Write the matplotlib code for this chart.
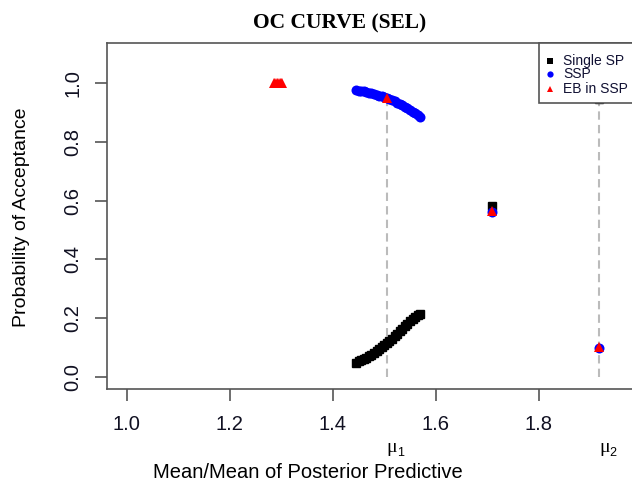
import matplotlib
matplotlib.use("Agg")
import matplotlib.pyplot as plt
from matplotlib.lines import Line2D
from matplotlib.patches import Rectangle

# ---- data ----
single_x = [1.445, 1.450, 1.455, 1.460, 1.465, 1.470, 1.475, 1.480, 1.485, 1.490,
            1.495, 1.500, 1.505, 1.510, 1.515, 1.520, 1.525, 1.530, 1.535, 1.540,
            1.545, 1.550, 1.555, 1.560, 1.565, 1.570, 1.710, 1.917]
single_y = [0.048, 0.052, 0.056, 0.060, 0.065, 0.070, 0.075, 0.081, 0.087, 0.093,
            0.100, 0.107, 0.114, 0.121, 0.129, 0.137, 0.145, 0.154, 0.163, 0.172,
            0.181, 0.190, 0.198, 0.205, 0.211, 0.215, 0.580, 0.946]

ssp_x = [1.445, 1.450, 1.455, 1.460, 1.465, 1.470, 1.475, 1.480, 1.485, 1.490,
         1.495, 1.500, 1.505, 1.510, 1.515, 1.520, 1.525, 1.530, 1.535, 1.540,
         1.545, 1.550, 1.555, 1.560, 1.565, 1.570, 1.710, 1.917]
ssp_y = [0.976, 0.975, 0.973, 0.972, 0.970, 0.968, 0.966, 0.964, 0.961, 0.958,
         0.955, 0.952, 0.949, 0.946, 0.942, 0.938, 0.934, 0.929, 0.925, 0.920,
         0.914, 0.909, 0.903, 0.897, 0.891, 0.886, 0.561, 0.097]

eb_x = [1.285, 1.288, 1.291, 1.294, 1.297, 1.300, 1.302, 1.505, 1.710, 1.917]
eb_y = [1.000, 1.000, 1.000, 1.000, 1.000, 1.000, 1.000, 0.950, 0.566, 0.102]

mu_x = [1.505, 1.917]
mu_top = [0.950, 0.946]
mu_subs = ["1", "2"]

legend_labels = ["Single SP", "SSP", "EB in SSP"]
x_ticks = [1.0, 1.2, 1.4, 1.6, 1.8]
y_ticks = [0.0, 0.2, 0.4, 0.6, 0.8, 1.0]

# ---- figure ----
W, H = 632, 483
fig = plt.figure(figsize=(W / 100, H / 100), dpi=100)

def fx(px):
    return px / W

def fy(py):
    return 1 - py / H

ax_left, ax_right, ax_top, ax_bot = 106.7, 632, 43, 389
ax = fig.add_axes([fx(ax_left), fy(ax_bot), (ax_right - ax_left) / W, (ax_bot - ax_top) / H])
ax.set_xlim(0.961, 1.981)
ax.set_ylim(-0.042, 1.137)

spine_c = "#555555"
for s in ["left", "bottom", "top"]:
    ax.spines[s].set_color(spine_c)
    ax.spines[s].set_linewidth(1.2)
ax.spines["right"].set_visible(False)

sans = ["Liberation Sans", "DejaVu Sans"]
serif = ["Liberation Serif", "DejaVu Serif"]

ax.set_xticks(x_ticks)
ax.set_xticklabels([f"{t:.1f}" for t in x_ticks], fontfamily=sans, fontsize=14.5)
ax.set_yticks(y_ticks)
ax.set_yticklabels([f"{t:.1f}" for t in y_ticks], fontfamily=sans, fontsize=14.5,
                   rotation=90, va="center")
ax.tick_params(axis="x", direction="out", length=8.5, width=1.2, color=spine_c, pad=10,
               labelcolor="#111122")
ax.tick_params(axis="y", direction="out", length=8.5, width=1.2, color=spine_c, pad=9,
               labelcolor="#111122")

# dashed reference lines
for x, top in zip(mu_x, mu_top):
    ax.plot([x, x], [0, top], color="#bbbbbb", lw=1.5, dashes=(4, 2.5), zorder=1)

ax.plot(single_x, single_y, linestyle="none", marker="s", ms=6.4, color="black",
        clip_on=False, zorder=3)
ax.plot(ssp_x, ssp_y, linestyle="none", marker="o", ms=7.2, color="blue",
        markeredgewidth=0, clip_on=False, zorder=4)
ax.plot(eb_x, eb_y, linestyle="none", marker="^", ms=7.2, color="red",
        markeredgewidth=0, clip_on=False, zorder=5)

# mu labels (mu with subscript index)
for x, sub in zip(mu_x, mu_subs):
    xp = ax.transData.transform((x, 0))[0]
    fig.text(fx(xp), fy(452), "μ", ha="left", va="baseline", fontsize=14,
             family=serif)
    fig.text(fx(xp + 10), fy(456), sub, ha="left", va="baseline", fontsize=9,
             family=sans)

# axis labels
fig.text(fx(308), fy(472), "Mean/Mean of Posterior Predictive", ha="center", va="center",
         fontsize=14.5, family=sans)
fig.text(fx(22), fy(217), "Probability of Acceptance", ha="center", va="center",
         rotation=90, fontsize=14, family=sans)

# title
fig.text(fx(340), fy(23), "OC CURVE (SEL)", ha="center", va="center", fontsize=15.5,
         fontweight="bold", family=serif)

# legend (manual, box runs off the right edge)
fig.patches.append(Rectangle((fx(539), fy(103)), fx(120), (103 - 43) / H,
                             transform=fig.transFigure, facecolor="white",
                             edgecolor=spine_c, lw=1.2, zorder=6))
leg_y = [60.5, 74, 89]
leg_style = [("s", "black", 4.2), ("o", "blue", 4.5), ("^", "red", 5.0)]
for lab, yy, (m, c, ms) in zip(legend_labels, leg_y, leg_style):
    fig.add_artist(Line2D([fx(550)], [fy(yy)], transform=fig.transFigure, marker=m,
                          ms=ms, color=c, markeredgewidth=0, linestyle="none", zorder=7))
    fig.text(fx(563), fy(yy), lab, ha="left", va="center", fontsize=10, family=sans,
             color="#111133", zorder=7)

fig.savefig("out.png", dpi=100)
